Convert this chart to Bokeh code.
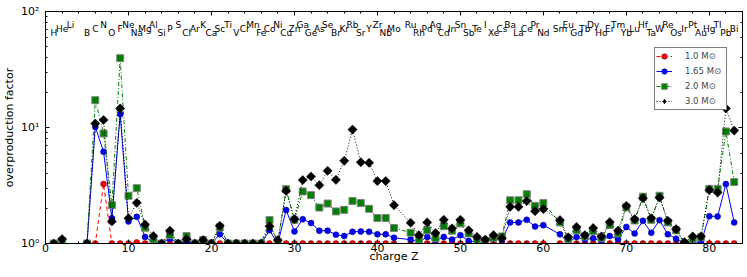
import math
from bokeh.plotting import figure
from bokeh.models import (LogAxis, LinearAxis, SingleIntervalTicker, LogTicker,
                          CustomJSTickFormatter, Legend, LegendItem, Range1d,
                          ColumnDataSource)
from bokeh.core.properties import value
from bokeh.embed import file_html
from bokeh.resources import INLINE

nan = float("nan")

# ---------------- data ----------------
charge_z = [1, 2, 3, 4, 5, 6, 7, 8, 9, 10, 11, 12, 13, 14, 15, 16, 17, 18, 19, 20,
            21, 22, 23, 24, 25, 26, 27, 28, 29, 30, 31, 32, 33, 34, 35, 36, 37, 38, 39, 40,
            41, 42, 44, 45, 46, 47, 48, 49, 50, 51, 52, 53, 54, 55, 56, 57, 58, 59, 60,
            62, 63, 64, 65, 66, 67, 68, 69, 70, 71, 72, 73, 74, 75, 76, 77, 78, 79, 80,
            81, 82, 83]

of_1_0 = [1.0, 1.0, nan, nan, 1.0, 1.0, 3.25, 1.0, 1.0, 1.0, 1.02, 1.0, 1.0, 1.0, 1.0, 1.0, 1.0, 1.0, 1.0, 1.0,
          1.0, 1.0, 1.0, 1.0, 1.0, 1.0, 1.0, 1.0, 1.0, 1.0, 1.0, 1.0, 1.0, 1.0, 1.0, 1.0, 1.0, 1.0, 1.0, 1.0,
          1.0, 1.0, 1.0, 1.0, 1.0, 1.0, 1.0, 1.0, 1.0, 1.0, 1.0, 1.0, 1.0, 1.0, 1.0, 1.0, 1.0, 1.0, 1.0,
          1.0, 1.0, 1.0, 1.0, 1.0, 1.0, 1.0, 1.0, 1.0, 1.0, 1.0, 1.0, 1.0, 1.0, 1.0, 1.0, 1.0, 1.0, 1.0,
          1.0, 1.0, 1.0]

of_1_65 = [1.0, 1.05, nan, nan, 1.0, 10.1, 6.17, 1.65, 13.0, 1.55, 1.70, 1.14, 1.02, 1.0, 1.10, 1.0, 1.04, 1.0, 1.03, 1.0,
           1.20, 1.0, 1.0, 1.0, 1.0, 1.0, 1.30, 1.0, 1.94, 1.27, 1.62, 1.50, 1.29, 1.29, 1.19, 1.16, 1.26, 1.27, 1.26, 1.20,
           1.20, 1.12, 1.08, 1.03, 1.14, 1.05, 1.14, 1.08, 1.18, 1.05, 1.03, 1.02, 1.09, 1.07, 1.52, 1.52, 1.60, 1.40, 1.44,
           1.20, 1.02, 1.14, 1.08, 1.11, 1.05, 1.16, 1.09, 1.39, 1.22, 1.57, 1.24, 1.59, 1.20, 1.10, 1.0, 1.03, 1.03, 1.72,
           1.71, 3.25, 1.52]

of_2_0 = [1.0, 1.05, nan, nan, 1.0, 17.2, 8.88, 2.15, 39.6, 2.58, 3.0, 1.37, 1.09, 1.0, 1.18, 1.0, 1.16, 1.0, 1.07, 1.0,
          1.38, 1.0, 1.0, 1.0, 1.0, 1.0, 1.59, 1.0, 2.94, 1.60, 2.81, 2.61, 2.04, 2.21, 1.89, 1.95, 2.33, 2.23, 1.99, 1.66,
          1.66, 1.36, 1.24, 1.08, 1.30, 1.11, 1.41, 1.29, 1.49, 1.22, 1.08, 1.05, 1.12, 1.15, 2.36, 2.36, 2.66, 2.11, 2.23,
          1.52, 1.10, 1.30, 1.15, 1.28, 1.12, 1.44, 1.22, 2.05, 1.58, 2.53, 1.60, 2.58, 1.52, 1.30, 1.0, 1.10, 1.13, 2.96,
          2.96, 9.24, 3.39]

of_3_0 = [1.0, 1.09, nan, nan, 1.0, 10.8, 11.6, 1.55, 14.6, 1.65, 2.24, 1.46, 1.16, 1.0, 1.29, 1.0, 1.09, 1.0, 1.07, 1.0,
          1.42, 1.0, 1.0, 1.0, 1.0, 1.0, 1.41, 1.07, 2.84, 1.62, 3.52, 3.78, 3.18, 4.23, 3.54, 5.16, 9.6, 5.02, 4.96, 3.45,
          3.45, 2.14, 1.51, 1.18, 1.52, 1.23, 1.60, 1.35, 1.60, 1.30, 1.14, 1.08, 1.18, 1.11, 2.07, 2.07, 2.32, 1.90, 1.98,
          1.59, 1.13, 1.39, 1.18, 1.36, 1.15, 1.53, 1.29, 2.11, 1.62, 2.46, 1.65, 2.49, 1.57, 1.33, 1.03, 1.15, 1.15, 2.89,
          2.75, 14.6, 9.4]

series_labels = ["1.0 M\u2299", "1.65 M\u2299", "2.0 M\u2299", "3.0 M\u2299"]

elem_symbols = ["H", "He", "Li", "B", "C", "N", "O", "F", "Ne", "Na", "Mg", "Al", "Si", "P", "S", "Cl",
                "Ar", "K", "Ca", "Sc", "Ti", "V", "Cr", "Mn", "Fe", "Co", "Ni", "Cu", "Zn", "Ga", "Ge",
                "As", "Se", "Br", "Kr", "Rb", "Sr", "Y", "Zr", "Nb", "Mo", "Ru", "Rh", "Pd", "Ag", "Cd",
                "In", "Sn", "Sb", "Te", "I", "Xe", "Cs", "Ba", "La", "Ce", "Pr", "Nd", "Sm", "Eu", "Gd",
                "Tb", "Dy", "Ho", "Er", "Tm", "Yb", "Lu", "Hf", "Ta", "W", "Re", "Os", "Ir", "Pt", "Au",
                "Hg", "Tl", "Pb", "Bi"]
elem_z = [1, 2, 3, 5, 6, 7, 8, 9, 10, 11, 12, 13, 14, 15, 16, 17, 18, 19, 20, 21, 22, 23, 24, 25, 26,
          27, 28, 29, 30, 31, 32, 33, 34, 35, 36, 37, 38, 39, 40, 41, 42, 44, 45, 46, 47, 48, 49, 50,
          51, 52, 53, 54, 55, 56, 57, 58, 59, 60, 62, 63, 64, 65, 66, 67, 68, 69, 70, 71, 72, 73, 74,
          75, 76, 77, 78, 79, 80, 81, 82, 83]

X_MIN, X_MAX, Y_MIN, Y_MAX = 0, 84, 1, 100

# ---------------- layout constants ----------------
FONT = "DejaVu Sans"
W, H = 747, 277
BL, BR, BT, BB = 43, 5, 11, 34
label_levels = [64.9, 70.5, 76.8]   # staggered heights of element labels
elem_y = [label_levels[i % 3] for i in range(len(elem_symbols))]

p = figure(width=W, height=H, x_range=Range1d(X_MIN, X_MAX), y_range=Range1d(Y_MIN, Y_MAX),
           y_axis_type="log", output_backend="svg", toolbar_location=None,
           min_border_left=BL, min_border_right=BR, min_border_top=BT, min_border_bottom=BB)
p.xgrid.visible = False
p.ygrid.visible = False
p.outline_line_color = None
p.background_fill_color = "white"
p.border_fill_color = "white"


def style_axis(ax):
    ax.major_tick_in = 4
    ax.major_tick_out = 0
    ax.minor_tick_in = 2
    ax.minor_tick_out = 0
    ax.axis_line_color = "black"
    ax.major_tick_line_color = "black"
    ax.minor_tick_line_color = "black"
    ax.major_label_text_font = FONT
    ax.major_label_text_font_size = "11px"
    ax.major_label_text_color = "black"
    ax.axis_label_text_font = FONT
    ax.axis_label_text_font_size = "11px"
    ax.axis_label_text_font_style = "normal"
    ax.axis_label_text_color = "black"


blank = CustomJSTickFormatter(code='return "";')

xa = p.xaxis[0]
xa.ticker = SingleIntervalTicker(interval=10, num_minor_ticks=5)
style_axis(xa)
xa.axis_label = "charge Z"
xa.major_label_standoff = 0
xa.axis_label_standoff = -5

ya = p.yaxis[0]
style_axis(ya)
ya.axis_label = "overproduction factor"
ya.major_label_standoff = 6
ya.axis_label_standoff = 2
ya.formatter = CustomJSTickFormatter(code="""
const sup = {"0": "\u2070", "1": "\u00b9", "2": "\u00b2", "3": "\u00b3", "-": "\u207b"};
const e = Math.round(Math.log10(tick));
return "10" + String(e).split("").map(c => sup[c]).join("");
""")

top = LinearAxis(ticker=SingleIntervalTicker(interval=10, num_minor_ticks=5), formatter=blank)
style_axis(top)
top.major_label_text_font_size = "1px"
top.major_label_standoff = 0
p.add_layout(top, "above")

right = LogAxis(ticker=LogTicker(), formatter=blank)
style_axis(right)
right.major_label_text_font_size = "1px"
right.major_label_standoff = 0
p.add_layout(right, "right")

# ---------------- series ----------------
src = ColumnDataSource(dict(z=charge_z, a=of_1_0, b=of_1_65, c=of_2_0, d=of_3_0))

rl = p.line("z", "a", source=src, line_color="red", line_width=1, line_dash="4 3")
rs = p.scatter("z", "a", source=src, marker="circle", size=6, fill_color="red",
               line_color="#600000", line_width=0.5)
bl = p.line("z", "b", source=src, line_color="blue", line_width=1)
bs = p.scatter("z", "b", source=src, marker="circle", size=6, fill_color="blue",
               line_color="#000060", line_width=0.5)
gl = p.line("z", "c", source=src, line_color="green", line_width=1, line_dash="4 2 1 2")
gs = p.scatter("z", "c", source=src, marker="square", size=7, fill_color="green",
               line_color="gray", line_width=1)
kl = p.line("z", "d", source=src, line_color="black", line_width=1, line_dash="1 2")
ks = p.scatter("z", "d", source=src, marker="square", size=6.5, angle=math.pi / 4,
               fill_color="black", line_color="black", line_width=0.5)
# legend-only proxy: zero size in the plot, the legend draws its own marker size
kd = p.scatter("z", "d", source=src, marker="diamond", size=0, fill_color="black",
               line_color=None)

p.text(x=elem_z, y=elem_y, text=elem_symbols, text_font=value(FONT),
       text_font_size="9px", text_align="center", text_baseline="middle",
       text_color="black")

# ---------------- legend ----------------
leg_left_page, leg_bottom_page = 652, 110
legend = Legend(items=[LegendItem(label=series_labels[0], renderers=[rl, rs]),
                       LegendItem(label=series_labels[1], renderers=[bl, bs]),
                       LegendItem(label=series_labels[2], renderers=[gl, gs]),
                       LegendItem(label=series_labels[3], renderers=[kl, kd])],
                location=(leg_left_page - BL, H - BB - leg_bottom_page),
                border_line_color="black", border_line_width=1,
                background_fill_color="white", background_fill_alpha=1.0,
                padding=1, spacing=1, glyph_height=14, glyph_width=16,
                label_standoff=13, label_width=40, margin=0,
                label_text_font=FONT, label_text_font_size="8.5px")
p.add_layout(legend)

open("out.html", "w").write(file_html(p, INLINE))
